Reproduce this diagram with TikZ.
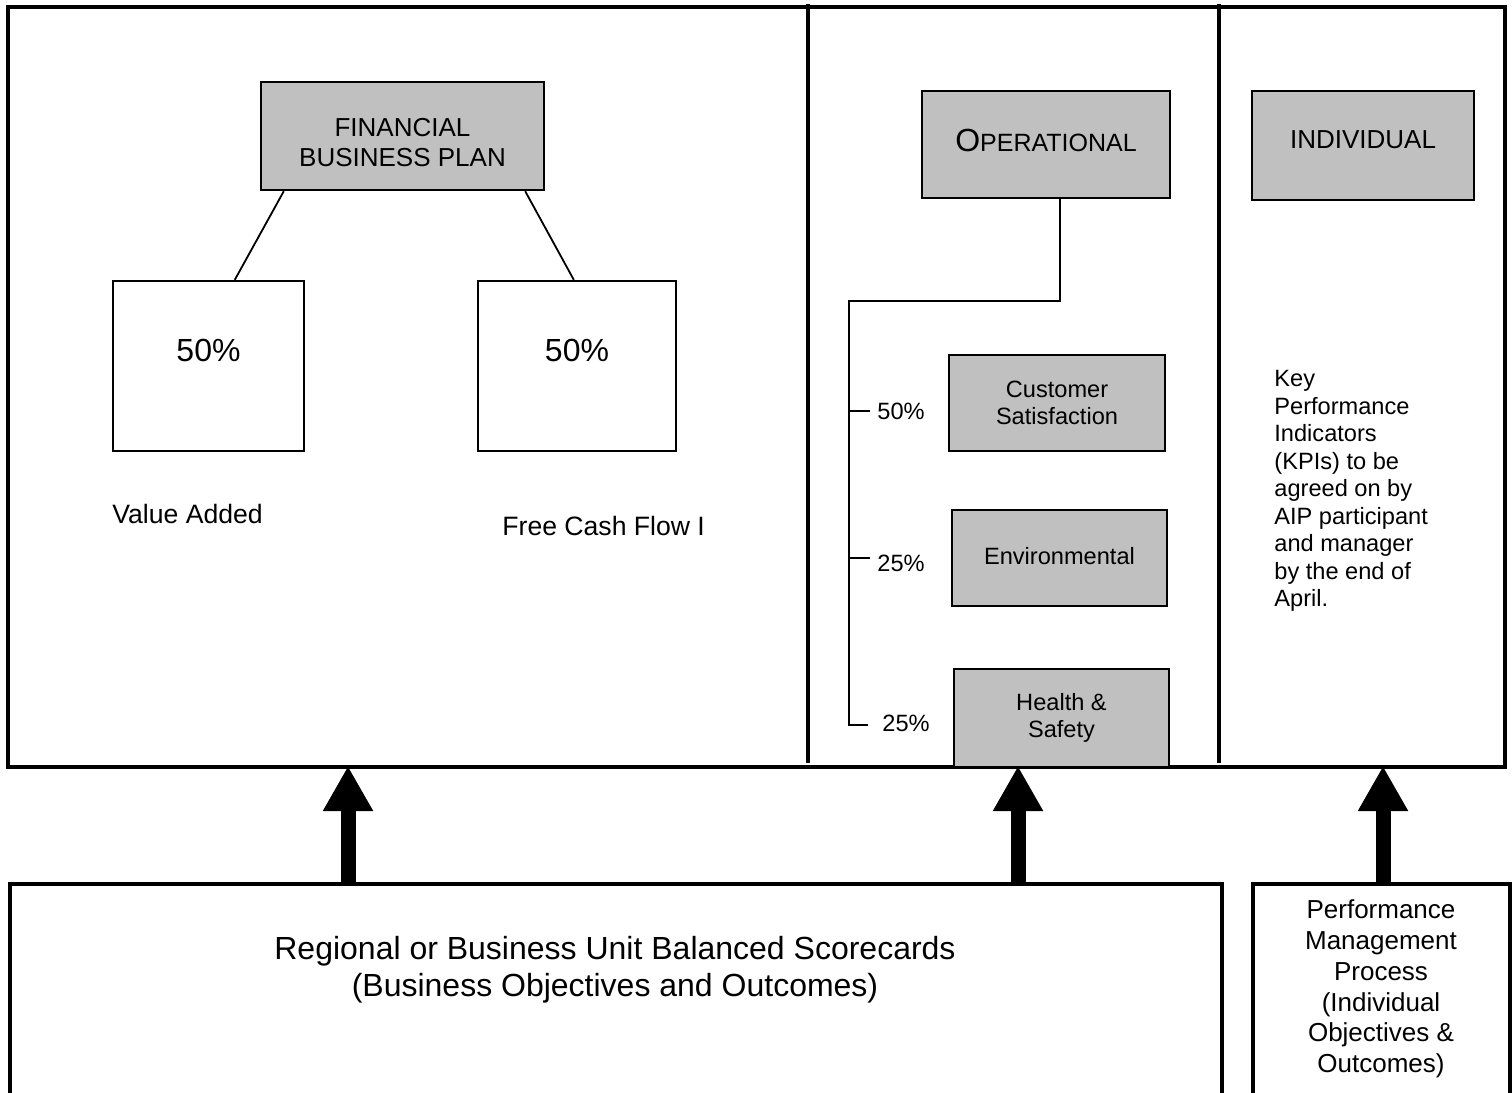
\documentclass[tikz,border=0pt]{standalone}
\usepackage{fontspec}
\setmainfont{Liberation Sans}
\usetikzlibrary{arrows.meta,calc}
\definecolor{boxgray}{RGB}{192,192,192}
\begin{document}
\begin{tikzpicture}[x=0.5pt,y=-0.5pt,
  frame/.style={line width=1.6pt},
  box/.style={draw, line width=1.2pt, inner sep=0pt, align=center},
  gbox/.style={box, fill=boxgray},
  conn/.style={line width=0.9pt},
  bigarrow/.style={line width=7.5pt, -{Triangle[width=23.5pt,length=22.5pt]}},
  ftitle/.style={font=\fontsize{13}{15}\selectfont},
  fsmall/.style={font=\fontsize{11.8}{13.6}\selectfont},
  fbig/.style={font=\fontsize{16}{18.5}\selectfont},
  fmid/.style={font=\fontsize{13.3}{15}\selectfont},
  txt/.style={inner sep=0pt, align=center}]
\useasboundingbox (0,0) rectangle (1512,1093);

% main frame and dividers
\draw[frame] (8,7) rectangle (1505,767);
\coordinate (d1t) at (808,4); \coordinate (d1b) at (808,763);
\coordinate (d2t) at (1219,4); \coordinate (d2b) at (1219,763);
\draw[frame] (d1t) -- (d1b);
\draw[frame] (d2t) -- (d2b);

% financial section
\node[gbox, ftitle, minimum width=141.5pt, minimum height=54pt] (fin) at (402.5,136) {};
\node[txt, ftitle] (fint) at (402.5,143) {FINANCIAL\\BUSINESS PLAN};
\node[box, minimum width=95.5pt, minimum height=85pt] (v1) at (208.5,366) {};
\node[box, minimum width=99pt, minimum height=85pt] (v2) at (577,366) {};
\node[txt, fbig] (v1t) at (208.5,350) {50\%};
\node[txt, fbig] (v2t) at (577,350) {50\%};
\draw[conn] ([xshift=12pt]fin.south west) -- ([xshift=61.5pt]v1.north west);
\draw[conn] ([xshift=-10pt]fin.south east) -- ([xshift=48.5pt]v2.north west);
\node[txt, fmid, anchor=west] (va) at (112,514) {Value Added};
\node[txt, fmid, anchor=west] (fcf) at (502,526) {Free Cash Flow I};

% operational section
\node[gbox, minimum width=124pt, minimum height=53.5pt] (op) at (1046,144.5)
  {\raisebox{4pt}{{\fontsize{16}{18}\selectfont O}{\fontsize{12.5}{15}\selectfont PERATIONAL}}};
\node[gbox, fsmall, minimum width=108pt, minimum height=48pt] (cs) at (1057,403) {Customer\\Satisfaction};
\node[gbox, fsmall, minimum width=107.5pt, minimum height=48pt] (env) at (1059.5,558) {\raisebox{2.5pt}{Environmental}};
\node[gbox, fsmall, minimum width=107.5pt, minimum height=49pt] (hs) at (1061.5,718) {Health \&\\Safety};
\coordinate (oc1) at (1060,301);
\coordinate (oc2) at (849,301);
\coordinate (oc3) at (849,725);
\coordinate (oc4) at (868,725);
\draw[conn] ([xshift=7pt]op.south) -- (oc1) -- (oc2) -- (oc3) -- (oc4);
\coordinate (t1a) at (849,411); \coordinate (t1b) at (870,411);
\coordinate (t2a) at (849,558); \coordinate (t2b) at (870,558);
\draw[conn] (t1a) -- (t1b);
\draw[conn] (t2a) -- (t2b);
\node[txt, fsmall] (p1) at (901,411) {50\%};
\node[txt, fsmall] (p2) at (901,563) {25\%};
\node[txt, fsmall] (p3) at (906,723) {25\%};

% individual section
\node[gbox, ftitle, minimum width=111pt, minimum height=54.5pt] (ind) at (1363,145.5) {\raisebox{6pt}{INDIVIDUAL}};
\node[txt, fsmall, anchor=west, align=left, font=\fontsize{11.8}{13.75}\selectfont] (kpi) at (1274,491)
  {Key\\Performance\\Indicators\\(KPIs) to be\\agreed on by\\AIP participant\\and manager\\by the end of\\April.};

% bottom boxes
\coordinate (bl1) at (10,1100); \coordinate (bl2) at (10,884);
\coordinate (bl3) at (1222,884); \coordinate (bl4) at (1222,1100);
\draw[frame] (bl1) -- (bl2) -- (bl3) -- (bl4);
\coordinate (br1) at (1253,1100); \coordinate (br2) at (1253,884);
\coordinate (br3) at (1510,884); \coordinate (br4) at (1510,1100);
\draw[frame] (br1) -- (br2) -- (br3) -- (br4);
\node[txt, fbig] (bsc) at (615,969.5) {Regional or Business Unit Balanced Scorecards\\(Business Objectives and Outcomes)};
\node[txt, font=\fontsize{13}{15.4}\selectfont] (pmp) at (1381,989)
  {Performance\\Management\\Process\\(Individual\\Objectives \&\\Outcomes)};

% arrows
\coordinate (a1s) at (348,884); \coordinate (a1e) at (348,766);
\coordinate (a2s) at (1018,884); \coordinate (a2e) at (1018,766);
\coordinate (a3s) at (1383,884); \coordinate (a3e) at (1383,766);
\draw[bigarrow] (a1s) -- (a1e);
\draw[bigarrow] (a2s) -- (a2e);
\draw[bigarrow] (a3s) -- (a3e);
\end{tikzpicture}
\end{document}
